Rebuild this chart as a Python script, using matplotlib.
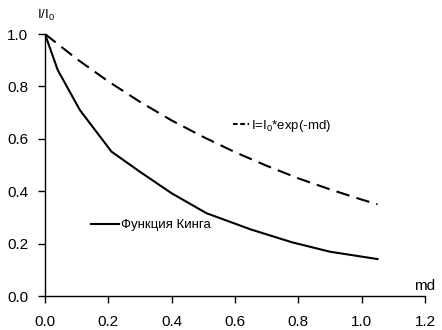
import matplotlib
matplotlib.use("Agg")
import matplotlib.pyplot as plt
from matplotlib.lines import Line2D

plt.rcParams['font.family'] = ['Liberation Sans', 'DejaVu Sans']
plt.rcParams['mathtext.fontset'] = 'custom'
plt.rcParams['mathtext.rm'] = 'Liberation Sans'
plt.rcParams['mathtext.it'] = 'Liberation Sans'

# data
king_x = [0.0, 0.04, 0.11, 0.21, 0.30, 0.40, 0.51, 0.65, 0.78, 0.90, 1.05]
king_y = [1.0, 0.863, 0.71, 0.551, 0.474, 0.392, 0.316, 0.254, 0.205, 0.169, 0.141]
exp_x = [0.0, 0.1, 0.2, 0.3, 0.4, 0.5, 0.6, 0.7, 0.8, 0.9, 1.0, 1.05]
exp_y = [1.0, 0.905, 0.819, 0.741, 0.670, 0.607, 0.549, 0.497, 0.449, 0.407, 0.368, 0.350]
x_ticks = [0.0, 0.2, 0.4, 0.6, 0.8, 1.0, 1.2]
y_ticks = [0.0, 0.2, 0.4, 0.6, 0.8, 1.0]
label_king = "Функция Кинга"
label_exp = "I=I$_0$*exp(-md)"

W, H = 442, 330
fig = plt.figure(figsize=(W/100, H/100), dpi=100)
ax = fig.add_axes([45/W, 34/H, 380/W, 262/H])

l_exp, = ax.plot(exp_x, exp_y, color='black', lw=1.5, linestyle=(0, (6.5, 3.5)))
l_king, = ax.plot(king_x, king_y, color='black', lw=1.5)

ax.set_xlim(0, 1.2)
ax.set_ylim(0, 1.0)
ax.set_xticks(x_ticks)
ax.set_yticks(y_ticks)
ax.set_xticklabels([f"{v:.1f}" for v in x_ticks])
ax.set_yticklabels([f"{v:.1f}" for v in y_ticks])
ax.tick_params(direction='out', length=5, width=1, labelsize=11, pad=7)
ax.tick_params(axis='x', pad=9)
for s in ['top', 'right']:
    ax.spines[s].set_visible(False)
for s in ['left', 'bottom']:
    ax.spines[s].set_linewidth(1)

exp_handle = Line2D([], [], color='black', lw=1.5, linestyle=(0, (2.2, 1.3)))
leg1 = ax.legend([exp_handle], [label_exp], loc='center left',
                 bbox_to_anchor=(233/W, 1 - 126/H), bbox_transform=fig.transFigure,
                 frameon=False, handlelength=1.2, handletextpad=0.15, fontsize=9.5,
                 borderpad=0, borderaxespad=0)
ax.add_artist(leg1)
leg2 = ax.legend([l_king], [label_king], loc='center left',
                 bbox_to_anchor=(91/W, 1 - 225/H), bbox_transform=fig.transFigure,
                 frameon=False, handlelength=2.1, handletextpad=0.2, fontsize=9.5,
                 borderpad=0, borderaxespad=0)

fig.text(37/W, 1 - 15/H, "I/I$_0$", fontsize=9.5, va='center', ha='left')
fig.text(435/W, 1 - 286/H, "md", fontsize=11, va='center', ha='right')

fig.savefig("out.png", dpi=100)
